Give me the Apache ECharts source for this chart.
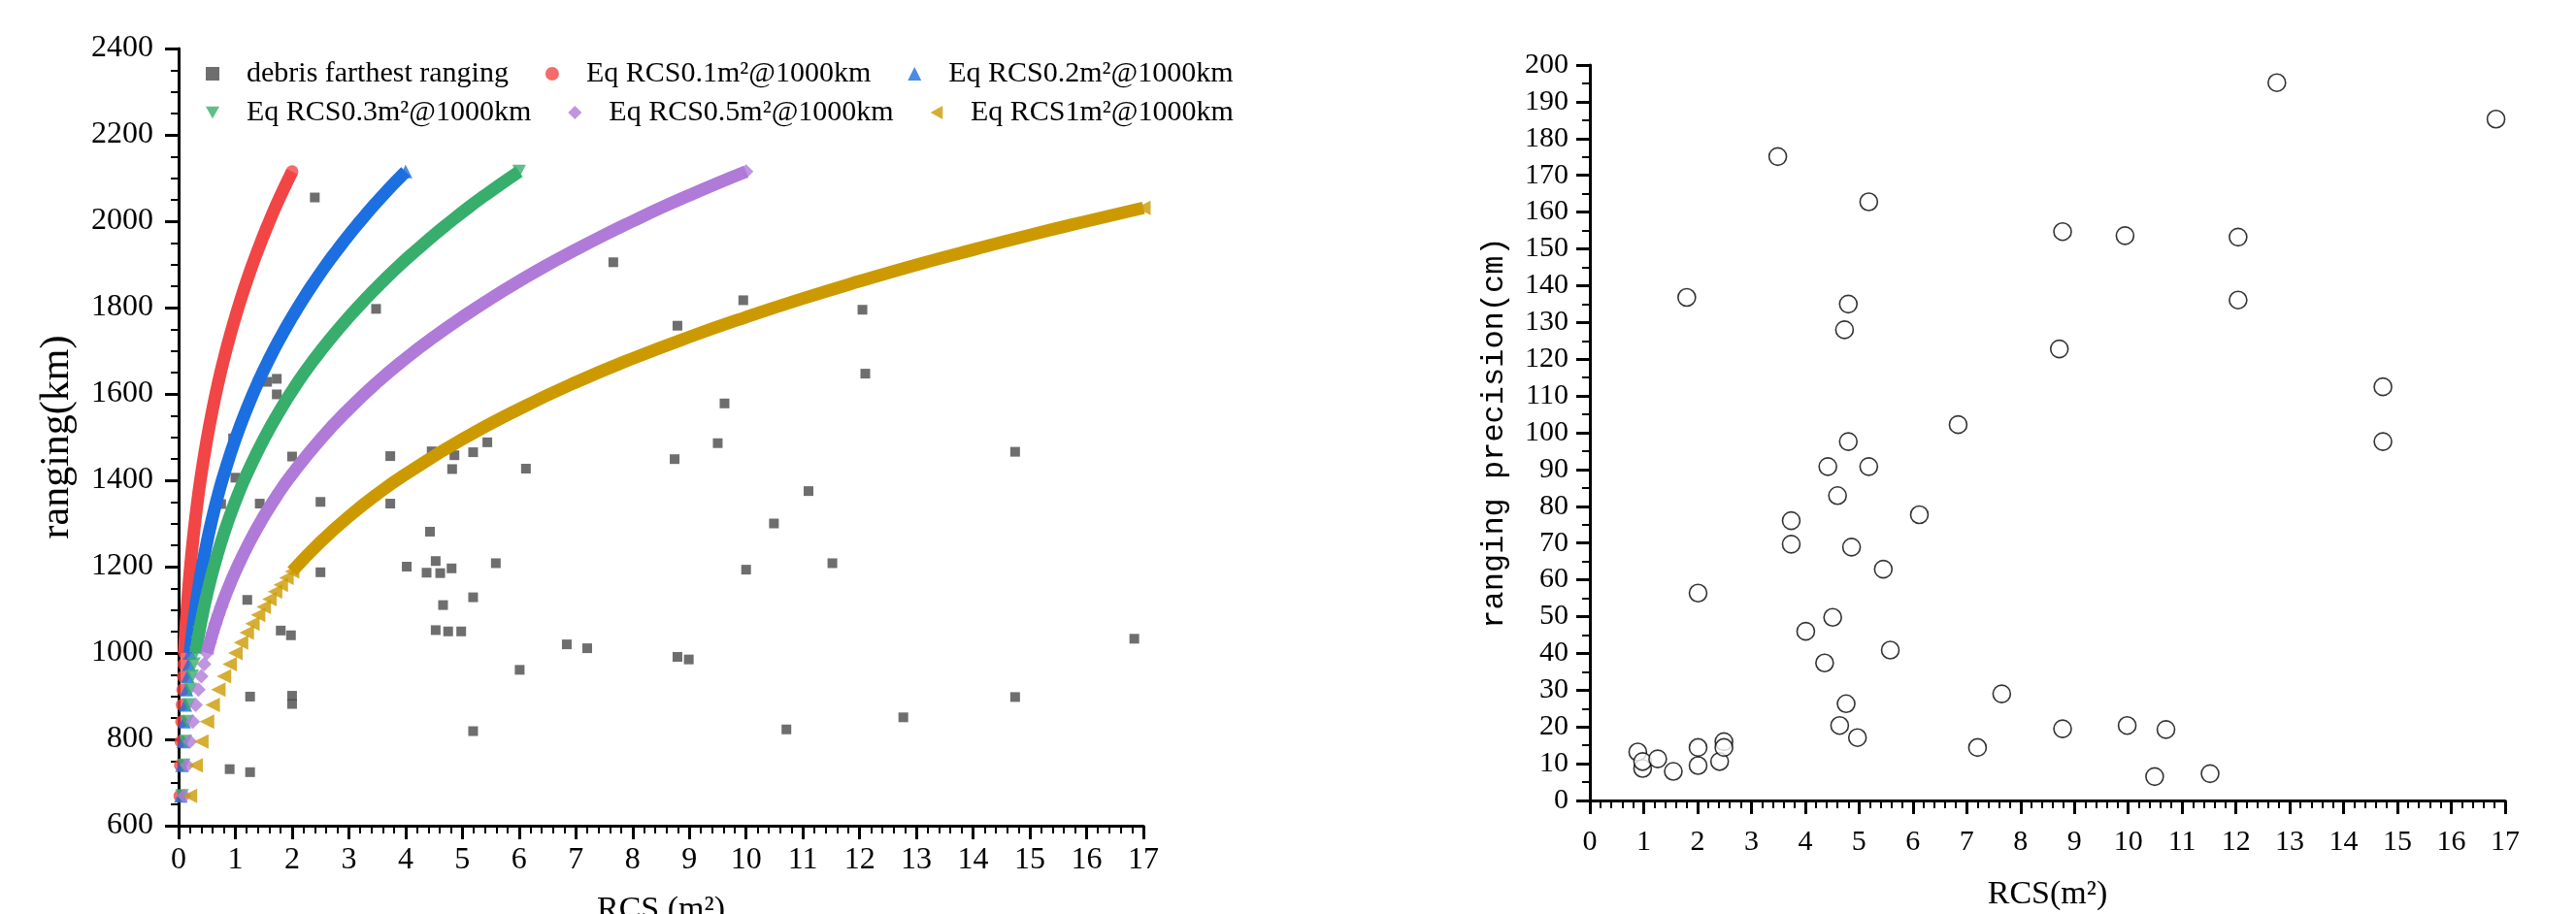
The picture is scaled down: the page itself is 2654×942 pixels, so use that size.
<!DOCTYPE html>
<html><head><meta charset="utf-8">
<script src="https://cdn.jsdelivr.net/npm/echarts@6/dist/echarts.min.js"></script>
<style>html,body{margin:0;padding:0;background:#fff}#c{width:2654px;height:942px}</style>
</head><body><div id="c"></div>
<script>
// ---- left chart: debris farthest ranging (RCS m^2, km)
const debrisRcs   = [2.40,3.48,7.66,9.95,8.79,12.05,12.10,9.62,1.56,1.73,1.73,0.96,1.00,2.00,3.73,4.46,4.86,4.82,5.19,5.44,6.12,8.74,9.50,14.74,11.10,10.49,1.43,0.75,2.50,3.73,4.43,4.53,4.02,4.37,4.61,4.81,5.59,2.50,10.00,11.52,1.21,5.19,4.66,1.80,1.98,4.53,4.75,4.98,6.84,7.20,16.84,8.79,8.99,6.01,1.26,2.00,2.00,14.74,12.77,10.71,5.19,0.90,1.26];
const debrisRange = [2055,1797,1905,1817,1758,1795,1647,1578,1628,1635,1599,1497,1406,1455,1456,1467,1458,1426,1465,1488,1427,1449,1486,1466,1375,1300,1346,1345,1350,1346,1281,1213,1200,1186,1185,1196,1208,1187,1193,1208,1123,1129,1111,1052,1041,1053,1050,1050,1020,1011,1033,991,985,961,899,901,882,898,851,823,819,731,724];

// equivalent-RCS curves: separate markers near the axis + dense band
const eq01MarkX = [0.02,0.03,0.04,0.05,0.06,0.07,0.08,0.09,0.10,2.0];
const eq01MarkY = [669,740,795,841,880,915,946,974,1000,2115];
const eq01BandX = [0.1,0.12,0.14,0.16,0.18,0.2,0.25,0.3,0.35,0.4,0.5,0.6,0.7,0.8,0.9,1.0,1.1,1.2,1.3,1.4,1.5,1.6,1.7,1.8,1.9,2.0];
const eq01BandY = [1000,1047,1088,1125,1158,1189,1257,1316,1368,1414,1495,1565,1627,1682,1732,1778,1821,1861,1899,1934,1968,2000,2031,2060,2088,2115];

const eq02MarkX = [0.04,0.06,0.08,0.10,0.12,0.14,0.16,0.18,0.20,4.0];
const eq02MarkY = [669,740,795,841,880,915,946,974,1000,2115];
const eq02BandX = [0.2,0.24,0.28,0.32,0.36,0.4,0.5,0.6,0.7,0.8,1.0,1.2,1.4,1.6,1.8,2.0,2.2,2.4,2.6,2.8,3.0,3.2,3.4,3.6,3.8,4.0];
const eq02BandY = [1000,1047,1088,1125,1158,1189,1257,1316,1368,1414,1495,1565,1627,1682,1732,1778,1821,1861,1899,1934,1968,2000,2031,2060,2088,2115];

const eq03MarkX = [0.06,0.09,0.12,0.15,0.18,0.21,0.24,0.27,0.30,0.33,0.36,6.0];
const eq03MarkY = [669,740,795,841,880,915,946,974,1000,1024,1047,2115];
const eq03BandX = [0.3,0.36,0.42,0.48,0.54,0.6,0.75,0.9,1.05,1.2,1.5,1.8,2.1,2.4,2.7,3.0,3.3,3.6,3.9,4.2,4.5,4.8,5.1,5.4,5.7,6.0];
const eq03BandY = [1000,1047,1088,1125,1158,1189,1257,1316,1368,1414,1495,1565,1627,1682,1732,1778,1821,1861,1899,1934,1968,2000,2031,2060,2088,2115];

const eq05MarkX = [0.10,0.15,0.20,0.25,0.30,0.35,0.40,0.45,0.50,0.55,0.60,0.65,0.70,0.75,10.0];
const eq05MarkY = [669,740,795,841,880,915,946,974,1000,1024,1047,1068,1088,1107,2115];
const eq05BandX = [0.5,0.6,0.7,0.8,0.9,1.0,1.25,1.5,1.75,2.0,2.5,3.0,3.5,4.0,4.5,5.0,5.5,6.0,6.5,7.0,7.5,8.0,8.5,9.0,9.5,10.0];
const eq05BandY = [1000,1047,1088,1125,1158,1189,1257,1316,1368,1414,1495,1565,1627,1682,1732,1778,1821,1861,1899,1934,1968,2000,2031,2060,2088,2115];

const eq1MarkX = [0.2,0.3,0.4,0.5,0.6,0.7,0.8,0.9,1.0,1.1,1.2,1.3,1.4,1.5,1.6,1.7,1.8,1.9,2.0,17.0];
const eq1MarkY = [669,740,795,841,880,915,946,974,1000,1024,1047,1068,1088,1107,1125,1142,1158,1174,1189,2031];
const eq1BandX = [2.0,2.5,3.0,3.5,4.0,5.0,6.0,7.0,8.0,9.0,10.0,11.0,12.0,13.0,14.0,15.0,16.0,17.0];
const eq1BandY = [1189,1257,1316,1368,1414,1495,1565,1627,1682,1732,1778,1821,1861,1899,1934,1968,2000,2031];

// ---- right chart: ranging precision (RCS m^2, cm)
const precRcs = [3.49,5.18,1.80,4.80,4.73,8.78,9.94,12.04,12.04,8.72,12.76,16.83,14.73,14.73,6.84,4.80,4.42,5.18,4.60,6.12,3.74,3.74,4.86,5.45,2.01,4.51,4.01,5.58,4.36,7.65,4.76,4.64,4.97,8.78,9.98,10.70,7.20,10.49,11.52,0.89,0.98,0.98,1.26,1.55,2.01,2.01,2.41,2.49,2.49];
const precCm  = [175.1,162.8,136.8,135.0,128.0,154.7,153.6,153.2,136.1,122.8,195.2,185.3,112.5,97.6,102.2,97.6,90.8,90.8,82.9,77.7,76.1,69.7,68.9,62.9,56.4,49.8,46.0,40.9,37.4,29.0,26.3,20.4,17.1,19.5,20.4,19.3,14.4,6.5,7.3,13.2,8.7,10.6,11.3,7.9,14.4,9.5,10.6,16.0,14.4];

const rcsTicks = [0,17,1];
const names = ['debris farthest ranging','Eq RCS0.1m²@1000km','Eq RCS0.2m²@1000km','Eq RCS0.3m²@1000km','Eq RCS0.5m²@1000km','Eq RCS1m²@1000km'];
const colors = ['#4a4a4a','#f24545','#1b6fe0','#37ae6c','#b07ad9','#cc9a00'];
const legendIcons = ['rect','circle','triangle','path://M0,0L10,0L5,9Z','diamond','path://M9,0L9,10L0,5Z'];

const zip = (a,b) => a.map((v,i)=>[v,b[i]]);
const serif = 'Liberation Serif';

function axisBase(minorSplit){
  return {
    axisLine:{show:true,onZero:false,lineStyle:{color:'#000',width:3}},
    axisTick:{show:true,inside:false,length:14,lineStyle:{color:'#000',width:3}},
    minorTick:{show:true,splitNumber:minorSplit,length:8,lineStyle:{color:'#000',width:2}},
    splitLine:{show:false},
    minorSplitLine:{show:false}
  };
}

const curves = [
  [eq01MarkX,eq01MarkY,eq01BandX,eq01BandY,'circle',0,13],
  [eq02MarkX,eq02MarkY,eq02BandX,eq02BandY,'triangle',0,14],
  [eq03MarkX,eq03MarkY,eq03BandX,eq03BandY,'triangle',180,14],
  [eq05MarkX,eq05MarkY,eq05BandX,eq05BandY,'diamond',0,15],
  [eq1MarkX,eq1MarkY,eq1BandX,eq1BandY,'triangle',90,15]
];

const series = [{
  name:names[0], type:'scatter', xAxisIndex:0, yAxisIndex:0,
  symbol:'rect', symbolSize:10, itemStyle:{color:colors[0]},
  data: zip(debrisRcs,debrisRange), z:2
}];
curves.forEach((c,i)=>{
  series.push({
    name:names[i+1]+' band', type:'line', xAxisIndex:0, yAxisIndex:0,
    data: zip(c[2],c[3]), showSymbol:false, smooth:true, silent:true,
    lineStyle:{color:colors[i+1],width:13}, z:3+i
  });
  series.push({
    name:names[i+1], type:'scatter', xAxisIndex:0, yAxisIndex:0,
    symbol:c[4], symbolRotate:c[5], symbolSize:c[6],
    itemStyle:{color:colors[i+1]}, data: zip(c[0],c[1]), z:3+i
  });
});
series.push({
  name:'ranging precision', type:'scatter', xAxisIndex:1, yAxisIndex:1,
  symbol:'circle', symbolSize:18,
  itemStyle:{color:'#fff',borderColor:'#000',borderWidth:1.6},
  data: zip(precRcs,precCm)
});

function legendRow(idx, top){
  return {
    left:207, top:top, itemWidth:14, itemHeight:14, itemGap:38,
    symbolKeepAspect:true,
    textStyle:{fontFamily:serif,fontSize:30,color:'#000',padding:[0,0,0,23]},
    data: idx.map(i=>({name:names[i], icon:legendIcons[i]}))
  };
}

const plain = v => String(v);
const chart = echarts.init(document.getElementById('c'));
chart.setOption({
  animation:false,
  backgroundColor:'#fff',
  grid:[
    {left:184,top:50,width:994,height:801,outerBoundsMode:'none',containLabel:false},
    {left:1638,top:67,width:943,height:758,outerBoundsMode:'none',containLabel:false}
  ],
  legend:[ legendRow([0,1,2],56), legendRow([3,4,5],96) ],
  xAxis:[
    Object.assign(axisBase(5),{
      gridIndex:0, type:'value', min:rcsTicks[0], max:rcsTicks[1], interval:rcsTicks[2],
      name:'RCS (m²)', nameLocation:'middle', nameGap:70,
      nameTextStyle:{fontFamily:serif,fontSize:34,color:'#000'},
      axisLabel:{margin:20,fontFamily:serif,fontSize:32,color:'#000',formatter:plain}
    }),
    Object.assign(axisBase(5),{
      gridIndex:1, type:'value', min:rcsTicks[0], max:rcsTicks[1], interval:rcsTicks[2],
      name:'RCS(m²)', nameLocation:'middle', nameGap:80,
      nameTextStyle:{fontFamily:serif,fontSize:34,color:'#000'},
      axisLabel:{margin:28,fontFamily:serif,fontSize:30,color:'#000',formatter:plain}
    })
  ],
  yAxis:[
    Object.assign(axisBase(4),{
      gridIndex:0, type:'value', min:600, max:2400, interval:200,
      name:'ranging(km)', nameLocation:'middle', nameGap:104,
      nameTextStyle:{fontFamily:serif,fontSize:42,color:'#000'},
      axisLabel:{margin:26,fontFamily:serif,fontSize:32,color:'#000',formatter:plain}
    }),
    Object.assign(axisBase(2),{
      gridIndex:1, type:'value', min:0, max:200, interval:10,
      name:'ranging precision(cm)', nameLocation:'middle', nameGap:82,
      nameTextStyle:{fontFamily:'Liberation Mono',fontSize:32,color:'#000'},
      axisLabel:{margin:22,fontFamily:serif,fontSize:30,color:'#000',formatter:plain}
    })
  ],
  series: series
});
</script></body></html>
